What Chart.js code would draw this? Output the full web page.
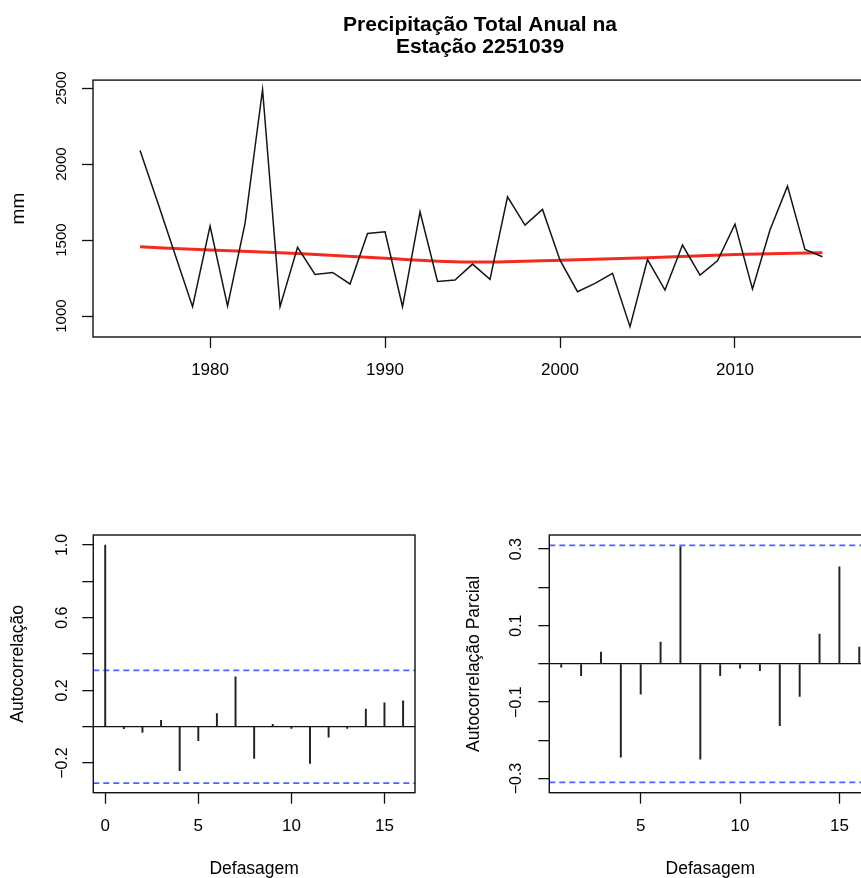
<!DOCTYPE html>
<html>
<head>
  <meta charset="utf-8">
  <title>Precipitação Total Anual - Estação 2251039</title>
  <script src="https://cdn.jsdelivr.net/npm/chart.js@4.4.0/dist/chart.umd.min.js"></script>
  <style>
    html, body { margin: 0; padding: 0; background: #fff; overflow: hidden; width: 861px; height: 878px; }
    canvas { position: absolute; }
    #serie { left: 0; top: 0; }
    #acf { left: 0; top: 500px; }
    #pacf { left: 430px; top: 500px; }
  </style>
</head>
<body>
  <canvas id="serie" width="960" height="400"></canvas>
  <canvas id="acf" width="430" height="378"></canvas>
  <canvas id="pacf" width="460" height="378"></canvas>

  <script>
    // serie anual (mm)
    const anos = [1976, 1977, 1978, 1979, 1980, 1981, 1982, 1983, 1984, 1985,
                  1986, 1987, 1988, 1989, 1990, 1991, 1992, 1993, 1994, 1995,
                  1996, 1997, 1998, 1999, 2000, 2001, 2002, 2003, 2004, 2005,
                  2006, 2007, 2008, 2009, 2010, 2011, 2012, 2013, 2014, 2015];
    const precipitacao = [2090, 1750, 1405, 1062, 1592, 1066, 1610, 2491, 1061, 1452,
                          1274, 1287, 1211, 1544, 1555, 1061, 1686, 1228, 1237, 1342,
                          1241, 1785, 1599, 1702, 1368, 1160, 1215, 1281, 930, 1372,
                          1171, 1467, 1270, 1364, 1605, 1178, 1566, 1855, 1439, 1390];

    // curva suavizada (vermelha)
    const anosTendencia = [1976, 1980, 1985, 1990, 1995, 2000, 2005, 2010, 2015];
    const tendencia = [1456, 1434, 1412, 1380, 1355, 1368, 1383, 1405, 1417];

    const ticksAnos = [1980, 1990, 2000, 2010];
    const ticksMm = [1000, 1500, 2000, 2500];

    // funcao de autocorrelacao
    const lagsAcf = [0, 1, 2, 3, 4, 5, 6, 7, 8, 9, 10, 11, 12, 13, 14, 15, 16];
    const acf = [1.0, -0.01, -0.031, 0.035, -0.242, -0.077, 0.073, 0.275, -0.174,
                 0.013, -0.009, -0.202, -0.057, -0.009, 0.097, 0.132, 0.143];
    const ticksAcfX = [0, 5, 10, 15];
    const ticksAcfY = [-0.2, 0, 0.2, 0.4, 0.6, 0.8, 1.0];
    const rotulosAcfY = ['\u22120.2', '', '0.2', '', '0.6', '', '1.0'];

    // funcao de autocorrelacao parcial
    const lagsPacf = [1, 2, 3, 4, 5, 6, 7, 8, 9, 10, 11, 12, 13, 14, 15, 16];
    const pacf = [-0.009, -0.031, 0.031, -0.244, -0.079, 0.057, 0.307, -0.249,
                  -0.031, -0.011, -0.018, -0.162, -0.085, 0.078, 0.254, 0.044];
    const ticksPacfX = [5, 10, 15];
    const ticksPacfY = [-0.3, -0.2, -0.1, 0, 0.1, 0.2, 0.3];
    const rotulosPacfY = ['\u22120.3', '', '\u22120.1', '', '0.1', '', '0.3'];

    const limiteConfianca = 0.31;

    const fonte = "'Liberation Sans', Arial, Helvetica, sans-serif";
    const azul = '#4f62ff';
    Chart.defaults.font.family = fonte;
    Chart.defaults.color = '#000';
    Chart.defaults.animation = false;

    // caixa em volta da area do grafico (estilo R)
    const moldura = {
      id: 'moldura',
      afterDraw(chart) {
        const a = chart.chartArea, ctx = chart.ctx;
        ctx.save();
        ctx.strokeStyle = '#111';
        ctx.lineWidth = 1.4;
        ctx.strokeRect(a.left, a.top, a.right - a.left, a.bottom - a.top);
        ctx.restore();
      }
    };

    function fixarTicks(lista) {
      return s => { s.ticks = lista.map(v => ({ value: v })); };
    }

    const gradeFora = { drawOnChartArea: false, tickLength: 11, tickColor: '#111', tickWidth: 1.3, offset: false };
    const gradeZero = {
      drawOnChartArea: true, tickLength: 11, tickColor: '#111', tickWidth: 1.3, lineWidth: 1.3,
      color: c => (c.tick && c.tick.value === 0) ? '#111' : 'rgba(0,0,0,0)'
    };

    // --- grafico da serie ---
    const xMinSerie = 1973.31, xMaxSerie = 2022.86;
    new Chart(document.getElementById('serie'), {
      type: 'line',
      data: {
        datasets: [{
          data: anos.map((a, i) => ({ x: a, y: precipitacao[i] })),
          borderColor: '#151515', borderWidth: 1.5, pointRadius: 0, tension: 0
        }, {
          data: anosTendencia.map((a, i) => ({ x: a, y: tendencia[i] })),
          borderColor: '#f52a1f', borderWidth: 3, pointRadius: 0, cubicInterpolationMode: 'monotone'
        }]
      },
      options: {
        responsive: false, devicePixelRatio: 1,
        layout: { padding: 0 },
        plugins: {
          legend: { display: false }, tooltip: { enabled: false },
          title: {
            display: true, text: ['Precipitação Total Anual na', 'Estação 2251039'], color: '#000',
            font: { size: 21, weight: 'bold', lineHeight: 1.05 }, padding: { top: 14, bottom: 22 }
          }
        },
        scales: {
          x: {
            type: 'linear', min: xMinSerie, max: xMaxSerie,
            afterBuildTicks: fixarTicks(ticksAnos), afterFit: s => { s.height = 63; },
            grid: gradeFora, border: { display: false },
            ticks: { font: { size: 17 }, padding: 12, maxRotation: 0, callback: v => String(v) }
          },
          y: {
            min: 862, max: 2553,
            afterBuildTicks: fixarTicks(ticksMm), afterFit: s => { s.width = 93; },
            grid: gradeFora, border: { display: false },
            ticks: { font: { size: 15 }, minRotation: 90, maxRotation: 90, crossAlign: 'center', padding: 3, callback: v => String(v) },
            title: { display: true, text: 'mm', font: { size: 19 }, padding: { top: 7, bottom: 0 } }
          }
        }
      },
      plugins: [moldura]
    });

    // --- ACF / PACF ---
    function graficoCorrelacao(id, lags, valores, xMin, xMax, yMin, yMax, ticksX, ticksY, rotulosY, tituloY, largY, padTitulo, padRotulo, direita) {
      return new Chart(document.getElementById(id), {
        type: 'bar',
        data: {
          datasets: [{
            type: 'bar',
            data: lags.map((l, i) => ({ x: l, y: valores[i] })),
            backgroundColor: '#222', barThickness: 1.3
          }, {
            type: 'line',
            data: [{ x: xMin, y: limiteConfianca }, { x: xMax, y: limiteConfianca }],
            borderColor: azul, borderWidth: 1.8, borderDash: [6, 4], pointRadius: 0
          }, {
            type: 'line',
            data: [{ x: xMin, y: -limiteConfianca }, { x: xMax, y: -limiteConfianca }],
            borderColor: azul, borderWidth: 1.8, borderDash: [6, 4], pointRadius: 0
          }]
        },
        options: {
          responsive: false, devicePixelRatio: 1,
          layout: { padding: { left: 0, right: direita, top: 35, bottom: 0 } },
          plugins: { legend: { display: false }, tooltip: { enabled: false } },
          scales: {
            x: {
              type: 'linear', min: xMin, max: xMax, offset: false,
              afterBuildTicks: fixarTicks(ticksX), afterFit: s => { s.height = 85.3; },
              grid: gradeFora, border: { display: false },
              ticks: { font: { size: 17 }, padding: 12, maxRotation: 0, callback: v => String(v) },
              title: { display: true, text: 'Defasagem', font: { size: 17.5, lineHeight: 1 }, padding: 0 }
            },
            y: {
              type: 'linear', min: yMin, max: yMax,
              afterBuildTicks: fixarTicks(ticksY), afterFit: s => { s.width = largY; },
              grid: gradeZero, border: { display: false },
              ticks: { font: { size: 16 }, minRotation: 90, maxRotation: 90, crossAlign: 'center', padding: padRotulo,
                       callback: (v, i) => rotulosY[i] },
              title: { display: true, text: tituloY, font: { size: 17.5 }, padding: { top: padTitulo, bottom: 0 } }
            }
          }
        },
        plugins: [moldura]
      });
    }

    graficoCorrelacao('acf', lagsAcf, acf, -0.64, 16.64, -0.363, 1.055,
      ticksAcfX, ticksAcfY, rotulosAcfY, 'Autocorrelação', 93.3, 7.5, 3.5, 15);
    graficoCorrelacao('pacf', lagsPacf, pacf, 0.4, 16.6, -0.337, 0.337,
      ticksPacfX, ticksPacfY, rotulosPacfY, 'Autocorrelação Parcial', 119.3, 34, 6, 18.8);
  </script>
</body>
</html>
